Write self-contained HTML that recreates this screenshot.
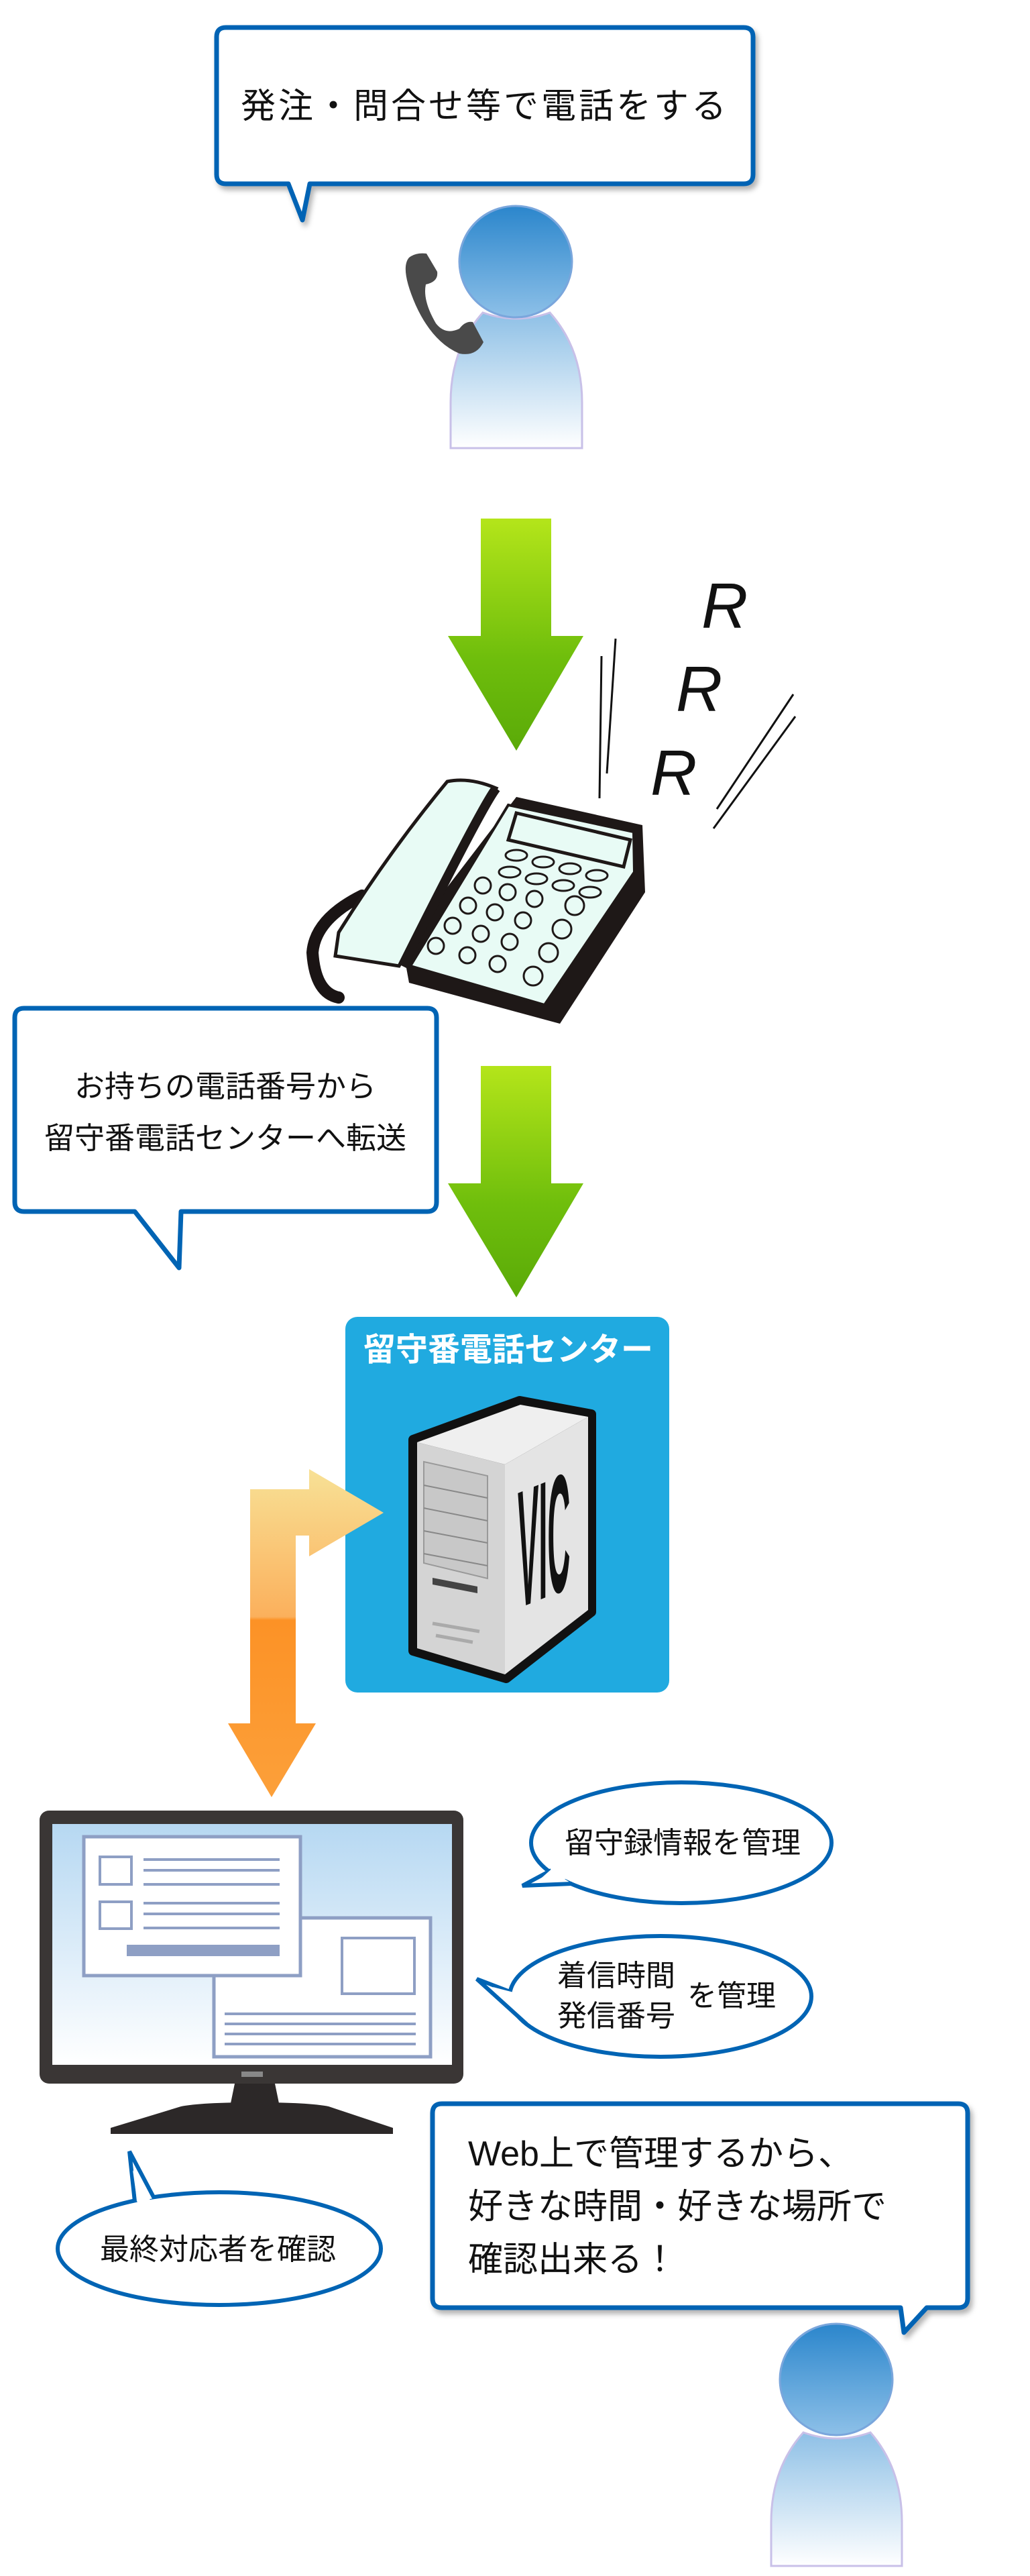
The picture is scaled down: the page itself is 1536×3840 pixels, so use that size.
<!DOCTYPE html>
<html><head><meta charset="utf-8">
<style>
html,body{margin:0;padding:0;background:#fff;}
svg{display:block;}
text{font-family:"Liberation Sans","Noto Sans CJK JP",sans-serif;}
</style></head>
<body>
<svg width="1536" height="3840" viewBox="0 0 1536 3840" xmlns="http://www.w3.org/2000/svg">
<defs>
<linearGradient id="head" x1="0" y1="0" x2="0" y2="1"><stop offset="0" stop-color="#2b86cc"/><stop offset="1" stop-color="#8dc0e8"/></linearGradient>
<linearGradient id="body" x1="0" y1="0" x2="0" y2="1"><stop offset="0" stop-color="#8ec0e6"/><stop offset="1" stop-color="#ffffff"/></linearGradient>
<linearGradient id="green" x1="0" y1="0" x2="0" y2="1"><stop offset="0" stop-color="#b4e51a"/><stop offset="0.6" stop-color="#6fbe0c"/><stop offset="1" stop-color="#5aaa08"/></linearGradient>
<linearGradient id="orange" x1="0" y1="0" x2="0" y2="1"><stop offset="0" stop-color="#f8e196"/><stop offset="0.45" stop-color="#fbb05c"/><stop offset="0.46" stop-color="#fc9226"/><stop offset="1" stop-color="#fca03a"/></linearGradient>
<linearGradient id="screen" x1="0" y1="0" x2="0" y2="1"><stop offset="0" stop-color="#b6d8f2"/><stop offset="1" stop-color="#ffffff"/></linearGradient>
<filter id="sh" x="-5%" y="-5%" width="115%" height="120%"><feDropShadow dx="4" dy="6" stdDeviation="4" flood-color="#000" flood-opacity="0.3"/></filter>
</defs>

<!-- Bubble 1 -->
<path filter="url(#sh)" d="M337,41 H1109 Q1123,41 1123,55 V260 Q1123,274 1109,274 H462 L451,328 L430,274 H337 Q323,274 323,260 V55 Q323,41 337,41Z" fill="#fff" stroke="#0064b4" stroke-width="7" stroke-linejoin="round"/>
<text x="723" y="176" font-size="52" letter-spacing="4" text-anchor="middle" fill="#111">発注・問合せ等で電話をする</text>

<!-- Person 1 -->
<path d="M720,466 Q770,484 820,466 Q868,520 868,600 V668 H672 V600 Q672,520 720,466Z" fill="url(#body)" stroke="#c8c0e8" stroke-width="3"/>
<ellipse cx="769" cy="390" rx="84" ry="83" fill="url(#head)" stroke="#7aa6dc" stroke-width="3"/>
<path d="M636,378 L652,405 Q654,420 635,424 Q630,448 650,482 Q664,500 685,490 Q694,478 705,480 L721,510 Q710,532 685,527 Q645,510 620,455 Q596,400 610,384 Q620,376 636,378Z" fill="#4a4a4a"/>

<!-- Green arrow 1 -->
<path d="M717,773 H822 V948 H870 L770,1119 L668,948 H717Z" fill="url(#green)"/>

<!-- ring lines and R -->
<g stroke="#111" stroke-width="3" fill="none">
<line x1="918" y1="952" x2="905" y2="1153"/>
<line x1="897" y1="978" x2="894" y2="1190"/>
<line x1="1183" y1="1035" x2="1069" y2="1206"/>
<line x1="1186" y1="1068" x2="1064" y2="1235"/>
</g>
<g font-size="96" fill="#111" font-style="italic">
<text x="1046" y="936">R</text>
<text x="1008" y="1060">R</text>
<text x="970" y="1185">R</text>
</g>

<!-- Telephone -->
<path d="M540,1335 Q470,1370 466,1420 Q470,1480 505,1487" fill="none" stroke="#1a1414" stroke-width="18" stroke-linecap="round"/>
<path d="M600,1410 L770,1188 L958,1230 L962,1330 L835,1526 L610,1465Z" fill="#1e1817"/>
<path d="M612,1440 L758,1200 L945,1240 L946,1300 L812,1498Z" fill="#e8fbf5" stroke="#1e1817" stroke-width="4"/>
<path d="M770,1212 L940,1252 L930,1292 L758,1252Z" fill="#e8fbf5" stroke="#1e1817" stroke-width="5"/>
<path d="M667,1165 Q700,1158 740,1175 L595,1440 L500,1425 L505,1390 Q580,1270 667,1165Z" fill="#e8fbf5" stroke="#1e1817" stroke-width="5"/>
<path d="M740,1175 Q720,1200 600,1440" fill="none" stroke="#1e1817" stroke-width="14"/>
<g fill="#e8fbf5" stroke="#1e1817" stroke-width="3">
<ellipse cx="770" cy="1275" rx="16" ry="8"/><ellipse cx="810" cy="1285" rx="16" ry="8"/><ellipse cx="850" cy="1295" rx="16" ry="8"/><ellipse cx="890" cy="1305" rx="16" ry="8"/>
<ellipse cx="760" cy="1300" rx="16" ry="8"/><ellipse cx="800" cy="1310" rx="16" ry="8"/><ellipse cx="840" cy="1320" rx="16" ry="8"/><ellipse cx="880" cy="1330" rx="16" ry="8"/>
<circle cx="720" cy="1320" r="12"/><circle cx="757" cy="1330" r="12"/><circle cx="797" cy="1340" r="12"/><circle cx="857" cy="1350" r="14"/>
<circle cx="698" cy="1350" r="12"/><circle cx="738" cy="1360" r="12"/><circle cx="780" cy="1372" r="12"/><circle cx="838" cy="1385" r="14"/>
<circle cx="675" cy="1380" r="12"/><circle cx="717" cy="1392" r="12"/><circle cx="760" cy="1404" r="12"/><circle cx="818" cy="1420" r="14"/>
<circle cx="650" cy="1410" r="12"/><circle cx="697" cy="1424" r="12"/><circle cx="742" cy="1437" r="12"/><circle cx="795" cy="1455" r="14"/>
</g>

<!-- Bubble 2 -->
<path d="M36,1503 H637 Q651,1503 651,1517 V1792 Q651,1806 637,1806 H270 L267,1890 L201,1806 H36 Q22,1806 22,1792 V1517 Q22,1503 36,1503Z" fill="#fff" stroke="#0064b4" stroke-width="7" stroke-linejoin="round"/>
<g font-size="45" fill="#111" text-anchor="middle">
<text x="336" y="1635">お持ちの電話番号から</text>
<text x="336" y="1712">留守番電話センターへ転送</text>
</g>

<!-- Green arrow 2 -->
<path d="M717,1589 H822 V1764 H870 L770,1934 L668,1764 H717Z" fill="url(#green)"/>

<!-- Blue box -->
<rect x="515" y="1963" width="483" height="560" rx="18" fill="#20aae0"/>
<text x="758" y="2028" font-size="48" font-weight="bold" fill="#fff" text-anchor="middle">留守番電話センター</text>
<!-- server -->
<path d="M616,2146 L775,2088 L882,2108 L882,2403 L755,2502 L616,2461Z" fill="#111" stroke="#111" stroke-width="14" stroke-linejoin="round"/>
<path d="M622,2150 L753,2183 L753,2496 L622,2457Z" fill="#d4d4d4"/>
<path d="M753,2183 L877,2112 L877,2400 L753,2496Z" fill="#e4e4e4"/>
<path d="M622,2150 L776,2094 L877,2112 L753,2183Z" fill="#efefef"/>
<path d="M632,2179 L727,2200 L727,2353 L632,2330Z" fill="#c8c8c8" stroke="#999" stroke-width="2"/>
<g stroke="#888" stroke-width="2"><line x1="632" y1="2214" x2="727" y2="2233"/><line x1="632" y1="2248" x2="727" y2="2267"/><line x1="632" y1="2282" x2="727" y2="2300"/><line x1="632" y1="2316" x2="727" y2="2334"/></g>
<path d="M645,2352 L712,2365 L712,2375 L645,2362Z" fill="#444"/>
<g stroke="#aaa" stroke-width="5"><line x1="645" y1="2420" x2="715" y2="2432"/><line x1="650" y1="2438" x2="705" y2="2448"/></g>
<text x="0" y="0" font-size="100" font-weight="bold" fill="#111" transform="translate(772,2398) skewY(-22) scale(0.47,2.5)">VIC</text>

<!-- Orange arrow -->
<path d="M373,2220 H461 V2190 L572,2255 L461,2320 V2289 H441 V2569 H471 L405,2679 L340,2569 H373Z" fill="url(#orange)"/>

<!-- Monitor -->
<rect x="59" y="2699" width="632" height="407" rx="14" fill="#3a3635"/>
<rect x="78" y="2719" width="596" height="359" fill="url(#screen)"/>
<rect x="360" y="3088" width="32" height="8" fill="#888"/>
<path d="M350,3106 H410 L418,3145 H342Z" fill="#2c2828"/>
<path d="M270,3140 Q300,3134 380,3134 Q460,3134 490,3140 L586,3172 V3181 H165 V3172Z" fill="#2c2828"/>
<rect x="319" y="2859" width="323" height="207" fill="#fff" stroke="#8e9fc4" stroke-width="5"/>
<rect x="510" y="2889" width="108" height="83" fill="#fff" stroke="#8e9fc4" stroke-width="4"/>
<g stroke="#8e9fc4" stroke-width="4"><line x1="335" y1="3002" x2="620" y2="3002"/><line x1="335" y1="3017" x2="620" y2="3017"/><line x1="335" y1="3032" x2="620" y2="3032"/><line x1="335" y1="3047" x2="620" y2="3047"/></g>
<rect x="125" y="2738" width="323" height="207" fill="#fff" stroke="#8e9fc4" stroke-width="5"/>
<rect x="149" y="2768" width="47" height="41" fill="#fff" stroke="#8e9fc4" stroke-width="4"/>
<rect x="149" y="2835" width="47" height="40" fill="#fff" stroke="#8e9fc4" stroke-width="4"/>
<g stroke="#8e9fc4" stroke-width="4"><line x1="214" y1="2772" x2="417" y2="2772"/><line x1="214" y1="2788" x2="417" y2="2788"/><line x1="214" y1="2809" x2="417" y2="2809"/><line x1="214" y1="2837" x2="417" y2="2837"/><line x1="214" y1="2853" x2="417" y2="2853"/><line x1="214" y1="2874" x2="417" y2="2874"/></g>
<rect x="189" y="2899" width="228" height="17" fill="#8e9fc4"/>

<!-- Ellipse bubbles -->
<g fill="#fff" stroke="#0064b4" stroke-width="6">
<ellipse cx="1016" cy="2747" rx="224" ry="90"/>
<path d="M822,2788 L779,2811 L853,2808"/>
<ellipse cx="985" cy="2976" rx="225" ry="90"/>
<path d="M758,2968 L711,2950 L785,3017"/>
<ellipse cx="327" cy="3352" rx="241" ry="84"/>
<path d="M201,3282 L193,3207 L230,3277"/>
</g>
<g fill="#fff">
<path d="M826,2783 L800,2806 L850,2800 Z"/>
<path d="M766,2970 L735,2962 L782,3007 Z"/>
<path d="M205,3285 L198,3235 L226,3283 Z"/>
</g>
<g font-size="44" fill="#111">
<text x="1018" y="2762" text-anchor="middle">留守録情報を管理</text>
<text x="831" y="2960">着信時間</text>
<text x="831" y="3020">発信番号</text>
<text x="1025" y="2990">を管理</text>
<text x="325" y="3368" text-anchor="middle">最終対応者を確認</text>
</g>

<!-- Bubble 3 -->
<path filter="url(#sh)" d="M659,3136 H1429 Q1443,3136 1443,3150 V3426 Q1443,3440 1429,3440 H1382 L1348,3477 L1343,3440 H659 Q645,3440 645,3426 V3150 Q645,3136 659,3136Z" fill="#fff" stroke="#0064b4" stroke-width="7" stroke-linejoin="round"/>
<g font-size="52" fill="#111">
<text x="698" y="3228">Web上で管理するから、</text>
<text x="698" y="3307">好きな時間・好きな場所で</text>
<text x="698" y="3386">確認出来る！</text>
</g>

<!-- Person 2 -->
<path d="M1198,3626 Q1248,3644 1298,3626 Q1345,3680 1345,3760 V3825 H1150 V3760 Q1150,3680 1198,3626Z" fill="url(#body)" stroke="#c8c0e8" stroke-width="3"/>
<ellipse cx="1247" cy="3547" rx="84" ry="83" fill="url(#head)" stroke="#7aa6dc" stroke-width="3"/>
</svg>
</body></html>
